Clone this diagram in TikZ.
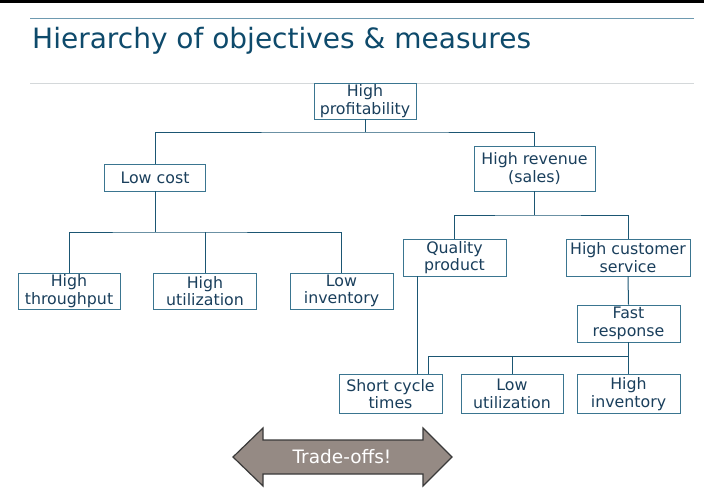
\documentclass[tikz,border=0pt]{standalone}
\usepackage{fontspec}
\setmainfont{DejaVu Sans}
\definecolor{boxc}{HTML}{3A7590}
\definecolor{linec}{HTML}{1B5673}
\definecolor{txtc}{HTML}{1A3F5C}
\definecolor{titlec}{HTML}{0E4A6B}
\definecolor{rulec}{HTML}{6E9AB0}
\definecolor{grayrule}{HTML}{D4D8DA}
\definecolor{arrfill}{HTML}{958A84}
\definecolor{arrdraw}{HTML}{3A3A3A}
\begin{document}
\begin{tikzpicture}[x=1pt,y=-1pt,
  obj/.style={draw=boxc,line width=0.9pt,fill=white,text=txtc,align=center,inner sep=0pt,
    minimum width=102pt,minimum height=36pt,font=\fontsize{15.8}{17.5}\selectfont},
  conn/.style={draw=linec,line width=1pt}]
\useasboundingbox (0,0) rectangle (704,488);
\fill[black] (0,0) rectangle (704,3);
\draw[rulec,line width=0.8pt] (30,18) -- (694,18);
\draw[grayrule,line width=0.8pt] (30,83) -- (694,83);
\node[anchor=base west,inner sep=0pt,text=titlec,font=\fontsize{28}{32}\selectfont] (title) at (32,48) {Hierarchy of objectives \& measures};

\node[obj] (prof) at (365,101) {High\\profitability};
\node[obj,minimum width=101pt,minimum height=27pt] (cost) at (155,177.5) {Low cost};
\node[obj,minimum width=121pt,minimum height=45pt] (rev) at (534.5,168.5) {High revenue\\(sales)};
\node[obj] (thr) at (69,291) {High\\throughput};
\node[obj,minimum width=103pt] (hutil) at (205,291) {High\\utilization};
\node[obj,minimum width=103pt] (linv) at (341.5,291) {Low\\inventory};
\node[obj,minimum width=103pt,minimum height=37pt] (qual) at (454.5,257.5) {Quality\\product};
\node[obj,minimum width=124pt,minimum height=37pt] (serv) at (628,257.5) {High customer\\service};
\node[obj,minimum width=103pt,minimum height=37pt] (fast) at (628.5,323.5) {Fast\\response};
\node[obj,minimum width=103pt,minimum height=39pt] (short) at (390.5,394) {Short cycle\\times};
\node[obj,minimum width=102pt,minimum height=39pt] (lutil) at (512,394) {Low\\utilization};
\node[obj,minimum width=103pt,minimum height=39pt] (hinv) at (628.5,394) {High\\inventory};

\coordinate (j1) at (365,132);
\coordinate (j2) at (155,232);
\coordinate (j3) at (534.5,215);
\coordinate (j4) at (628.5,356);
\coordinate (q417) at (417,300);
\coordinate (s428) at (428,300);

\draw[conn] (prof.south) -- (j1);
\draw[conn] (cost.north) |- (j1) -| (rev.north);
\draw[conn] (cost.south) -- (j2);
\draw[conn] (thr.north) |- (j2) -| (linv.north);
\draw[conn] (hutil.north) -- (hutil.north |- j2);
\draw[conn] (rev.south) -- (j3);
\draw[conn] (qual.north) |- (j3) -| (serv.north);
\draw[conn] (serv.south) -- (fast.north);
\draw[conn] (fast.south) -- (j4);
\draw[conn] (short.north -| s428) |- (j4) -- (hinv.north);
\draw[conn] (lutil.north) -- (lutil.north |- j4);
\draw[conn] (qual.south -| q417) -- (short.north -| q417);

\draw[arrdraw,fill=arrfill,line width=1.2pt,line join=miter]
  (233,457) -- (263,428) -- (263,440) -- (423,440) -- (423,428) -- (452,457)
  -- (423,486) -- (423,474) -- (263,474) -- (263,486) -- cycle;
\node[text=white,font=\fontsize{18.5}{20}\selectfont,inner sep=0pt] (trade) at (342,457) {Trade-offs!};
\end{tikzpicture}
\end{document}
